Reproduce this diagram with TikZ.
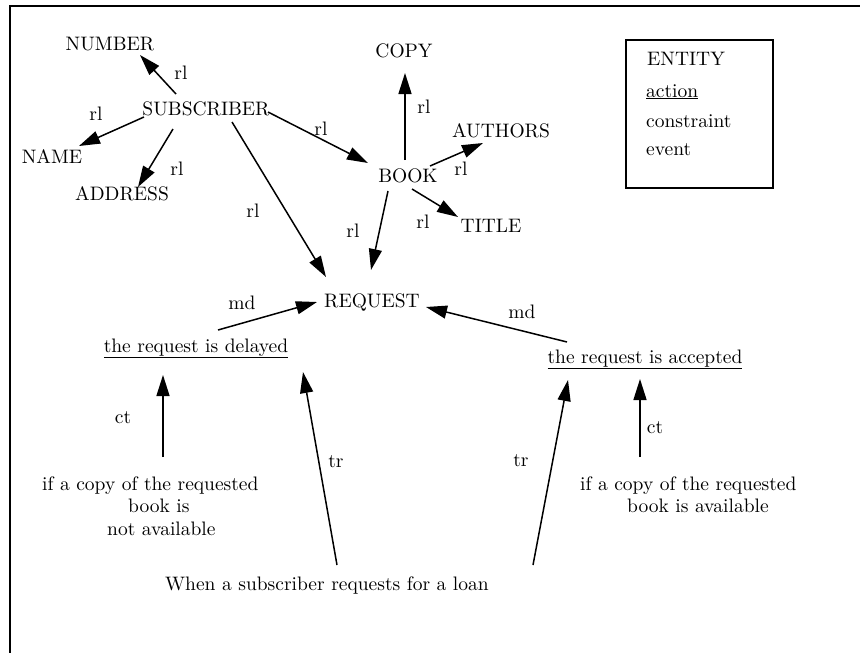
\documentclass[tikz,border=0pt]{standalone}
\usepackage{fontspec}
\setmainfont{lmroman10-regular}[Extension=.otf]
\usetikzlibrary{arrows.meta}
\begin{document}
\begin{tikzpicture}[x=1pt,y=-1pt,
  every node/.style={inner sep=0pt, font=\fontsize{19.5}{22.5}\selectfont},
  term/.style={anchor=base},
  lbl/.style={anchor=center},
  item/.style={anchor=base west},
  arr/.style={line width=1.5pt, -{Triangle[length=21pt,width=13pt]}},
  frame/.style={line width=2pt}]
\useasboundingbox (0,0) rectangle (860,653);

% outer frame (top and left edges)
\draw[frame] (10,653) -- (10,6) -- (860,6);

% entities
\node[term] (num)   at (110,50)  {NUMBER};
\node[term] (sub)   at (206,115) {SUBSCRIBER};
\node[term] (name)  at (52,163)  {NAME};
\node[term] (addr)  at (122,200) {ADDRESS};
\node[term] (copy)  at (404,57)  {COPY};
\node[term] (auth)  at (501,137) {AUTHORS};
\node[term] (book)  at (408,182) {BOOK};
\node[term] (title) at (491,232) {TITLE};
\node[term] (req)   at (372,307) {REQUEST};

% actions
\node[term] (del) at (196,352) {\underline{the request is delayed}};
\node[term] (acc) at (645,363) {\underline{the request is accepted}};

% constraints and event
\node[anchor=north west, align=left] (condno) at (42,476.5)
  {if a copy of the requested\\\hspace*{86pt}book is\\\hspace*{65pt}not available};
\node[anchor=north west, align=left] (condyes) at (580,476.5)
  {if a copy of the requested\\\hspace*{47pt}book is available};
\node[anchor=base west] (loan) at (165,590) {When a subscriber requests for a loan};

% relations of SUBSCRIBER
\draw[arr] ([shift={(-30,-21)}]sub.base) -- ([shift={(30,5)}]num.base);
\draw[arr] ([shift={(-62,2)}]sub.base) -- ([shift={(27,-17)}]name.base);
\draw[arr] ([shift={(-33,14)}]sub.base) -- ([shift={(16,-13)}]addr.base);
\draw[arr] ([shift={(62,-3)}]sub.base) -- ([shift={(-40,-19)}]book.base);
\draw[arr] ([shift={(26,7)}]sub.base) -- ([shift={(-46,-30)}]req.base);

% relations of BOOK
\draw[arr] ([shift={(-3,-22)}]book.base) -- ([shift={(1,16)}]copy.base);
\draw[arr] ([shift={(22,-16)}]book.base) -- ([shift={(-18,6)}]auth.base);
\draw[arr] ([shift={(4,7)}]book.base) -- ([shift={(-33,-15)}]title.base);
\draw[arr] ([shift={(-20,9)}]book.base) -- ([shift={(-1,-37)}]req.base);

% modifications of REQUEST
\draw[arr] ([shift={(22,-22)}]del.base) -- ([shift={(-55,-5)}]req.base);
\draw[arr] ([shift={(-78,-21)}]acc.base) -- ([shift={(54,0)}]req.base);

% constraints and triggers
\draw[arr] ([shift={(121,-19.5)}]condno.north west) -- ([shift={(-33,23)}]del.base);
\draw[arr] ([shift={(172,-25)}]loan.base west) -- ([shift={(107,20)}]del.base);
\draw[arr] ([shift={(368,-25)}]loan.base west) -- ([shift={(-77,17)}]acc.base);
\draw[arr] ([shift={(60,-19.5)}]condyes.north west) -- ([shift={(-5,16)}]acc.base);

% connector labels
\node[lbl] (l1)  at (181,73)  {rl};
\node[lbl] (l2)  at (96,114)  {rl};
\node[lbl] (l3)  at (177,169) {rl};
\node[lbl] (l4)  at (253,211) {rl};
\node[lbl] (l5)  at (321,129) {rl};
\node[lbl] (l6)  at (424,107) {rl};
\node[lbl] (l7)  at (461,169) {rl};
\node[lbl] (l8)  at (423,222) {rl};
\node[lbl] (l9)  at (353,231) {rl};
\node[lbl] (l10) at (242,303) {md};
\node[lbl] (l11) at (522,312) {md};
\node[lbl] (l12) at (123,418) {ct};
\node[lbl] (l13) at (655,428) {ct};
\node[lbl] (l14) at (336,462) {tr};
\node[lbl] (l15) at (521,461) {tr};

% legend
\node[draw, line width=1.5pt, minimum width=147pt, minimum height=148pt] (legend) at (699.5,114) {};
\node[item] (lgent) at (647,65)  {ENTITY};
\node[item] (lgact) at (646,97)  {\underline{action}};
\node[item] (lgcon) at (646,127) {constraint};
\node[item] (lgevt) at (646,155) {event};
\end{tikzpicture}
\end{document}
